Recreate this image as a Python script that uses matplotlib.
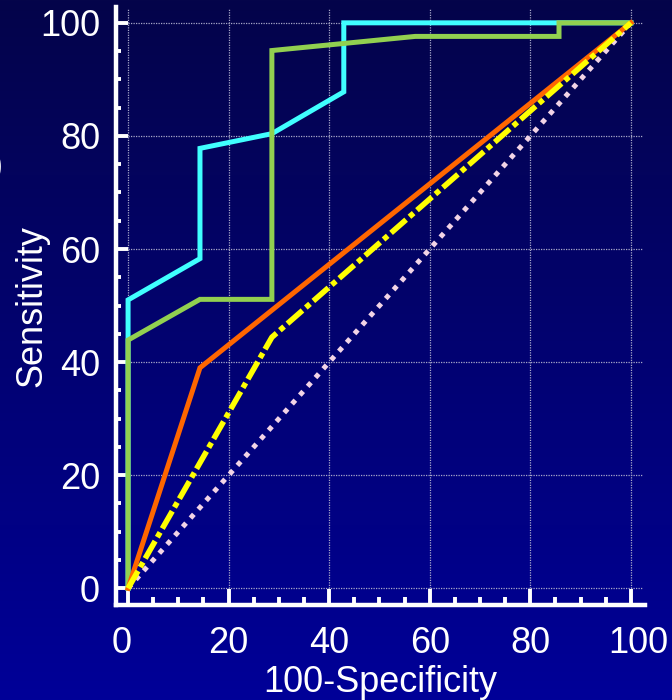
import numpy as np
import matplotlib
matplotlib.use('Agg')
import matplotlib.pyplot as plt
import matplotlib.transforms as mtransforms
from matplotlib.colors import LinearSegmentedColormap
from matplotlib.ticker import MultipleLocator

plt.rcParams['font.family'] = ['Liberation Sans', 'DejaVu Sans']

# ROC curves (100-Specificity vs Sensitivity)
cyan_x = [0, 0, 14.3, 14.3, 28.6, 42.9, 42.9, 100]
cyan_y = [0, 51.0, 58.3, 77.8, 80.4, 87.8, 100, 100]
green_x = [0, 0, 14.3, 28.6, 28.6, 57.1, 85.7, 85.7, 100]
green_y = [0, 43.9, 51.1, 51.1, 95.1, 97.6, 97.6, 100, 100]
orange_x = [0, 14.3, 100]
orange_y = [0, 39.0, 100]
yellow_x = [0, 28.6, 100]
yellow_y = [0, 44.4, 100]
diag_x = [0, 100]
diag_y = [0, 100]

ticks = [0, 20, 40, 60, 80, 100]
tick_labels = ['0', '20', '40', '60', '80', '100']

fig = plt.figure(figsize=(6.72, 7.0), dpi=100)

# gradient background
bg = fig.add_axes([0, 0, 1, 1], zorder=-1)
cmap = LinearSegmentedColormap.from_list('bg', ['#000098', '#04044a'])
bg.imshow(np.linspace(0, 1, 256).reshape(-1, 1), aspect='auto', cmap=cmap,
          extent=[0, 1, 0, 1], origin='lower')
bg.axis('off')

ax = fig.add_axes([116 / 672, 95 / 700, 529 / 672, 598 / 700])
ax.set_facecolor('none')
ax.set_xlim(-2.4, 102.8)
ax.set_ylim(-2.95, 102.8)

# dotted grid
gcol = '#a8a8c8'
ax.vlines(ticks, 0, 102.6, colors=gcol, linestyles=(0, (1, 1)), lw=0.9, zorder=1)
ax.hlines(ticks, 0, 102.3, colors=gcol, linestyles=(0, (1, 1)), lw=0.9, zorder=1)

lw = 3.6
ax.plot(diag_x, diag_y, color='#f2d4e6', lw=lw, dashes=(1, 1.35), zorder=2)
ax.plot(cyan_x, cyan_y, color='#40ffff', lw=lw, solid_joinstyle='miter', zorder=3)
ax.plot(green_x, green_y, color='#92d050', lw=lw, solid_joinstyle='miter', zorder=4)
ax.plot(orange_x, orange_y, color='#ff6600', lw=lw, solid_joinstyle='miter', zorder=5)
ax.plot(yellow_x, yellow_y, color='#ffff00', lw=4.0, dashes=(3.6, 0.8, 1, 0.8),
        dash_joinstyle='round', zorder=6)

for s in ['top', 'right']:
    ax.spines[s].set_visible(False)
for s in ['left', 'bottom']:
    ax.spines[s].set_color('white')
    ax.spines[s].set_linewidth(3.2)

ax.set_xticks(ticks)
ax.set_xticklabels(tick_labels)
ax.set_yticks(ticks)
ax.set_yticklabels(tick_labels)
ax.xaxis.set_minor_locator(MultipleLocator(5))
ax.yaxis.set_minor_locator(MultipleLocator(5))
ax.tick_params(axis='x', which='major', direction='in', length=11.5, width=2.8,
               color='white', labelcolor='white', labelsize=26, pad=15)
ax.tick_params(axis='x', which='minor', direction='in', length=5.8, width=2.8, color='white')
ax.tick_params(axis='y', which='major', direction='in', length=8.6, width=2.8,
               color='white', labelcolor='white', labelsize=26, pad=11.5)
ax.tick_params(axis='y', which='minor', direction='in', length=3.6, width=2.8, color='white')

# end labels of the x axis sit slightly outward
xlabs = ax.get_xticklabels()
xlabs[0].set_transform(xlabs[0].get_transform() +
                       mtransforms.ScaledTranslation(-6 / 100, 0, fig.dpi_scale_trans))
xlabs[-1].set_transform(xlabs[-1].get_transform() +
                        mtransforms.ScaledTranslation(7 / 100, 0, fig.dpi_scale_trans))

ax.set_xlabel('100-Specificity', color='white', fontsize=26)
ax.xaxis.set_label_coords(0.5, -0.1)
ax.set_ylabel('Sensitivity', color='white', fontsize=26)
ax.yaxis.set_label_coords(-0.126, 0.5)

# clipped character at the left edge
fig.text(3 / 672, 1 - 166 / 700, ')', color='white', fontsize=26,
         ha='right', va='center')

fig.savefig('out.png', dpi=100)
